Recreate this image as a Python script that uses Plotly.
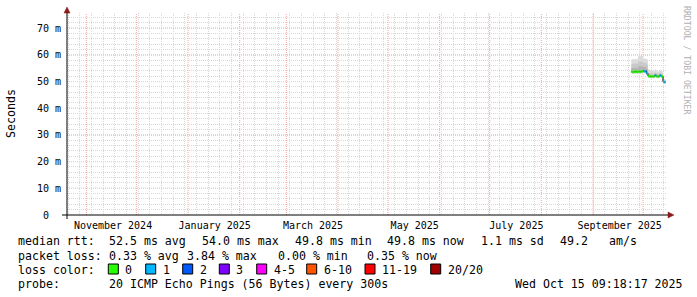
import pandas as pd
import plotly.graph_objects as go

# ---------------- data ----------------
range_start = "2024-10-20 09:18:17"
range_end = "2025-10-15 09:18:17"
bin_start = "2025-09-24 00:00"          # first 12h consolidated bin

median_ms = [53.7, 53.6, 53.6, 53.7, 53.6, 53.8, 53.7, 53.6, 53.7, 53.8,
             53.6, 53.7, 53.8, 53.9, 54.0, 53.9, 53.9, 54.0, 53.1, 53.0,
             52.1, 52.0, 51.9, 52.0, 51.9, 52.0, 51.9, 52.0, 52.4, 52.3,
             52.0, 51.9, 51.9, 52.0, 52.4, 52.2, 52.0, 51.9, 49.9, 49.8,
             49.8]
loss_of20 = [0, 0, 0, 0, 0, 0, 0, 0, 0, 0,
             0, 0, 0, 0, 1, 1, 1, 1, 1, 1,
             0, 0, 0, 0, 0, 0, 0, 0, 1, 1,
             0, 0, 0, 0, 1, 1, 0, 0, 0, 1,
             1]
smoke_outer_lo = [52.9, 52.9, 52.8, 52.9, 52.8, 52.9, 52.9, 52.8, 52.9, 52.9,
                  52.8, 52.9, 53.0, 53.0, 53.1, 53.0, 53.0, 53.1, 52.5, 52.4,
                  51.4, 51.3, 51.2, 51.3, 51.2, 51.3, 51.2, 51.3, 51.6, 51.5,
                  51.3, 51.2, 51.2, 51.3, 51.6, 51.4, 51.3, 51.2, 49.3, 49.3,
                  49.2]
smoke_outer_hi = [58.3, 58.4, 58.5, 58.4, 58.6, 58.4, 58.5, 58.4, 59.6, 59.8,
                  59.7, 59.8, 59.6, 59.7, 58.6, 58.5, 58.7, 58.6, 58.4, 58.3,
                  54.6, 54.4, 54.2, 54.3, 54.1, 54.2, 54.0, 54.1, 54.6, 54.4,
                  54.1, 53.9, 53.8, 54.0, 54.5, 54.2, 53.9, 53.8, 51.2, 51.0,
                  50.9]
smoke_mid_lo = [53.2, 53.2, 53.1, 53.2, 53.1, 53.2, 53.2, 53.1, 53.2, 53.2,
                53.1, 53.2, 53.3, 53.3, 53.4, 53.3, 53.3, 53.4, 52.7, 52.6,
                51.6, 51.5, 51.5, 51.5, 51.4, 51.5, 51.4, 51.5, 51.9, 51.8,
                51.5, 51.4, 51.4, 51.5, 51.9, 51.7, 51.5, 51.4, 49.5, 49.4,
                49.4]
smoke_mid_hi = [56.6, 56.7, 56.8, 56.6, 56.9, 56.7, 56.8, 56.6, 57.4, 57.6,
                57.5, 57.6, 57.4, 57.5, 57.0, 56.9, 57.1, 57.0, 56.4, 56.2,
                53.4, 53.3, 53.1, 53.2, 53.0, 53.1, 53.0, 53.1, 53.5, 53.3,
                53.1, 53.0, 52.9, 53.0, 53.4, 53.2, 53.0, 52.9, 50.6, 50.4,
                50.4]
smoke_inner_lo = [53.4, 53.4, 53.3, 53.4, 53.3, 53.5, 53.4, 53.3, 53.4, 53.5,
                  53.3, 53.4, 53.5, 53.6, 53.7, 53.6, 53.6, 53.7, 52.9, 52.8,
                  51.8, 51.7, 51.7, 51.7, 51.6, 51.7, 51.6, 51.7, 52.1, 52.0,
                  51.7, 51.6, 51.6, 51.7, 52.1, 51.9, 51.7, 51.6, 49.6, 49.6,
                  49.6]
smoke_inner_hi = [55.0, 55.1, 55.2, 55.0, 55.3, 55.1, 55.2, 55.0, 55.6, 55.8,
                  55.7, 55.8, 55.6, 55.7, 55.5, 55.4, 55.5, 55.5, 54.6, 54.4,
                  52.7, 52.6, 52.5, 52.6, 52.4, 52.5, 52.4, 52.5, 52.9, 52.8,
                  52.5, 52.4, 52.3, 52.5, 52.9, 52.7, 52.5, 52.4, 50.2, 50.1,
                  50.1]

month_starts = ["2024-11-01", "2024-12-01", "2025-01-01", "2025-02-01", "2025-03-01",
                "2025-04-01", "2025-05-01", "2025-06-01", "2025-07-01", "2025-08-01",
                "2025-09-01", "2025-10-01"]
month_label_dates = ["2024-11-17", "2025-01-17", "2025-03-17",
                     "2025-05-17", "2025-07-17", "2025-09-17"]
month_labels = ["November 2024", "January 2025", "March 2025",
                "May 2025", "July 2025", "September 2025"]
ytick_ms = [0, 10, 20, 30, 40, 50, 60, 70]
ytick_text = ["0\u00a0\u00a0", "10 m", "20 m", "30 m", "40 m", "50 m", "60 m", "70 m"]
y_top_ms = 75.7

loss_names = ["0", "1", "2", "3", "4-5", "6-10", "11-19", "20/20"]
loss_colors = ["#26ff00", "#00b8ff", "#0059ff", "#7e00ff",
               "#ff00ff", "#ff5500", "#ff0000", "#a10000"]
loss_ranges = [(0, 0), (1, 1), (2, 2), (3, 3), (4, 5), (6, 10), (11, 19), (20, 20)]

stat_line1 = [("median rtt:", 16), ("52.5 ms avg", 107.3), ("54.0 ms max", 200),
              ("49.8 ms min", 293.3), ("49.8 ms now", 385), ("1.1 ms sd", 479.3),
              ("49.2", 558.3), ("am/s", 606.7)]
stat_line2 = [("packet loss:", 16), ("0.33 % avg", 107.3), ("3.84 % max", 185),
              ("0.00 % min", 276), ("0.35 % now", 365)]
loss_square_x = [108.3, 145.7, 182.7, 219.3, 256.7, 306.7, 365, 430.7]
probe_text = "20 ICMP Echo Pings (56 Bytes) every 300s"
stamp_text = "Wed Oct 15 09:18:17 2025"

# ---------------- figure ----------------
MONO = "DejaVu Sans Mono"
L, R, T, B = 67, 30, 13, 82
W, H = 697, 297
PW, PH = W - L - R, H - T - B


def ax(px):
    return (px - L) / PW


def ay(py):
    return (T + PH - py) / PH


n = len(median_ms)
edges = pd.date_range(bin_start, periods=n + 1, freq="12h")
sec = lambda arr: [v / 1000.0 for v in arr] + [arr[-1] / 1000.0]

fig = go.Figure()

bands = [(smoke_outer_lo, smoke_outer_hi, "#dcdcdc"),
         (smoke_mid_lo, smoke_mid_hi, "#c9c9c9"),
         (smoke_inner_lo, smoke_inner_hi, "#b4b4b4")]
for lo, hi, col in bands:
    fig.add_trace(go.Scatter(x=edges, y=sec(lo), mode="lines", line=dict(width=0, shape="hv"),
                             hoverinfo="skip", showlegend=False))
    fig.add_trace(go.Scatter(x=edges, y=sec(hi), mode="lines", line=dict(width=0, shape="hv"),
                             fill="tonexty", fillcolor=col, hoverinfo="skip", showlegend=False))

# black step connector of the median
fig.add_trace(go.Scatter(x=edges, y=sec(median_ms), mode="lines",
                         line=dict(color="#000000", width=1, shape="hv"),
                         showlegend=False, hoverinfo="skip"))

# coloured median segments by loss
for name, col, (a, b) in zip(loss_names, loss_colors, loss_ranges):
    xs, ys = [], []
    for i in range(n):
        if a <= loss_of20[i] <= b:
            xs += [edges[i], edges[i + 1], None]
            ys += [median_ms[i] / 1000.0, median_ms[i] / 1000.0, None]
    if xs:
        fig.add_trace(go.Scatter(x=xs, y=ys, mode="lines", line=dict(color=col, width=2.5),
                                 showlegend=False, name=name))

# invisible trace for label axis
fig.add_trace(go.Scatter(x=[range_start, range_end], y=[0, 0], xaxis="x2", mode="lines",
                         line=dict(width=0), showlegend=False, hoverinfo="skip"))

grid_major_v = "#f4a4a4"
grid_major_h = "#ec7878"
grid_minor = "#d8d8d8"
DOTS = "1px,1px"

fig.update_layout(
    width=W, height=H, margin=dict(l=L, r=R, t=T, b=B),
    paper_bgcolor="#ffffff", plot_bgcolor="#ffffff",
    font=dict(family=MONO, size=10, color="#000000"),
    xaxis=dict(type="date", range=[range_start, range_end],
               tickmode="array", tickvals=month_starts,
               showgrid=False, showticklabels=False, ticks="", zeroline=False, showline=False,
               minor=dict(tickmode="linear", dtick=7 * 86400000, tick0="2024-10-21",
                          showgrid=True, gridcolor=grid_minor, griddash=DOTS, gridwidth=1)),
    xaxis2=dict(type="date", range=[range_start, range_end], overlaying="x", anchor="y",
                side="bottom", showgrid=False, zeroline=False, ticks="",
                ticklabelstandoff=3,
                tickvals=month_label_dates, ticktext=month_labels,
                tickfont=dict(family=MONO, size=10, color="#000000")),
    yaxis=dict(range=[0, y_top_ms / 1000.0], tickvals=[v / 1000.0 for v in ytick_ms],
               ticktext=ytick_text, showgrid=False, zeroline=False, showline=False, ticks="",
               ticklabelstandoff=5,
               tickfont=dict(family=MONO, size=10, color="#000000"),
               minor=dict(tickmode="linear", dtick=0.002, tick0=0, showgrid=True,
                          gridcolor=grid_minor, griddash=DOTS, gridwidth=1)),
)

shapes = []
# major grid (red dotted) at month starts and at each labelled y tick
for d in month_starts:
    shapes.append(dict(type="line", xref="x", yref="paper", x0=d, x1=d, y0=0, y1=1,
                       line=dict(color=grid_major_v, width=1, dash=DOTS), layer="between"))
for v in ytick_ms[1:]:
    shapes.append(dict(type="line", xref="paper", yref="y", x0=0, x1=1,
                       y0=v / 1000.0, y1=v / 1000.0,
                       line=dict(color=grid_major_h, width=1, dash=DOTS), layer="between"))
# axis lines and arrows
shapes.append(dict(type="line", xref="paper", yref="paper", x0=ax(62), x1=ax(669),
                   y0=ay(215), y1=ay(215), line=dict(color="#000000", width=1), layer="above"))
shapes.append(dict(type="line", xref="paper", yref="paper", x0=ax(67), x1=ax(67),
                   y0=ay(219), y1=ay(12), line=dict(color="#000000", width=1), layer="above"))
shapes.append(dict(type="path", xref="paper", yref="paper",
                   path=f"M {ax(668)} {ay(212)} L {ax(674)} {ay(215)} L {ax(668)} {ay(218)} Z",
                   fillcolor="#8b1a1a", line=dict(color="#8b1a1a", width=0.5), layer="above"))
shapes.append(dict(type="path", xref="paper", yref="paper",
                   path=f"M {ax(64)} {ay(13)} L {ax(67)} {ay(7)} L {ax(70)} {ay(13)} Z",
                   fillcolor="#8b1a1a", line=dict(color="#8b1a1a", width=0.5), layer="above"))
# legend squares
for xs, col in zip(loss_square_x, loss_colors):
    shapes.append(dict(type="rect", xref="paper", yref="paper", x0=ax(xs), x1=ax(xs + 10),
                       y0=ay(274), y1=ay(264), fillcolor=col,
                       line=dict(color="#000000", width=1), layer="above"))
fig.update_layout(shapes=shapes)

nb = lambda s: s.replace(" ", "\u00a0")
ann = []


def txt(s, px, py, size=11.6, color="#000000", angle=0, xanchor="left"):
    ann.append(dict(text=nb(s), x=ax(px), y=ay(py), xref="paper", yref="paper",
                    showarrow=False, xanchor=xanchor, yanchor="middle", textangle=angle,
                    font=dict(family=MONO, size=size, color=color)))


for s, px in stat_line1:
    txt(s, px, 241.5)
for s, px in stat_line2:
    txt(s, px, 255.5)
txt("loss color:", 16, 269.5)
for xs, name in zip(loss_square_x, loss_names):
    txt(name, xs + 15, 269.5)
txt("probe:", 16, 283.5)
txt(probe_text, 107.3, 283.5)
txt(stamp_text, 512.7, 283.5)
txt("Seconds", 11, 114, size=11.6, angle=-90, xanchor="center")
txt("RRDTOOL / TOBI OETIKER", 687, 60, size=8.2, color="#b0b0b0", angle=90, xanchor="center")
fig.update_layout(annotations=ann)

fig.write_html("out.html")
